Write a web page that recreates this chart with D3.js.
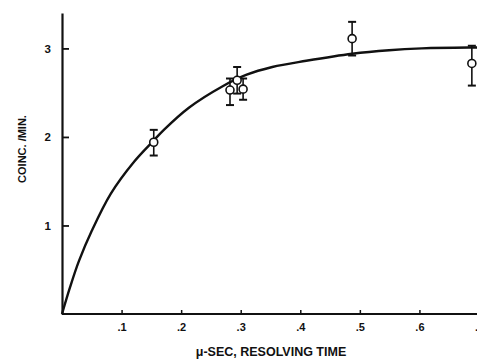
<!doctype html>
<html lang="en">
<head>
  <meta charset="utf-8">
  <title>Coincidences vs resolving time</title>
  <script src="https://d3js.org/d3.v7.min.js"></script>
  <style>
    body { margin: 0; background: #fff; }
    text { font-family: "Liberation Sans", Arial, sans-serif; font-weight: bold; fill: #111; }
    .axis path, .axis line { stroke: #111; }
  </style>
</head>
<body>
  <svg id="chart" width="477" height="360"></svg>
  <script>
    // measured points, resolving time in microseconds
    const pointX = [0.154, 0.282, 0.294, 0.304, 0.487, 0.688];
    const pointY = [1.94, 2.53, 2.64, 2.54, 3.11, 2.83];
    const errLow = [1.79, 2.36, 2.49, 2.42, 2.92, 2.58];
    const errHigh = [2.08, 2.66, 2.79, 2.66, 3.30, 3.03];

    // fitted curve
    const curveX = [0, 0.0134, 0.0285, 0.050, 0.082, 0.121, 0.154, 0.171, 0.213, 0.269, 0.309,
      0.353, 0.410, 0.487, 0.549, 0.604, 0.683, 0.70];
    const curveY = [0, 0.30, 0.60, 0.94, 1.36, 1.72, 1.96, 2.08, 2.33, 2.57, 2.70,
      2.79, 2.86, 2.94, 2.98, 3.00, 3.01, 3.01];

    const xTicks = [0.1, 0.2, 0.3, 0.4, 0.5, 0.6, 0.7];
    const yTicks = [1, 2, 3];

    const svg = d3.select("#chart");

    const x = d3.scaleLinear().domain([0, 0.7]).range([62, 479]);
    const y = d3.scaleLinear().domain([0, 3.4]).range([314, 13]);

    // x axis
    const xAxis = svg.append("g")
      .attr("class", "axis")
      .attr("transform", "translate(0," + y(0) + ")")
      .call(d3.axisBottom(x)
        .tickValues(xTicks)
        .tickSize(-4)
        .tickSizeOuter(0)
        .tickPadding(9)
        .tickFormat(d => d3.format(".1f")(d).replace(/^0/, "")));
    xAxis.select(".domain").attr("stroke-width", 2.2).attr("d", "M" + x(0) + ",0H477");
    xAxis.selectAll("line").attr("stroke-width", 1.5);
    xAxis.selectAll("text").attr("font-size", 11);

    // y axis
    const yAxis = svg.append("g")
      .attr("class", "axis")
      .attr("transform", "translate(" + x(0) + ",0)")
      .call(d3.axisLeft(y)
        .tickValues(yTicks)
        .tickSize(-7)
        .tickSizeOuter(0)
        .tickPadding(9)
        .tickFormat(d3.format("d")));
    yAxis.select(".domain").attr("stroke-width", 2.2);
    yAxis.selectAll("line").attr("stroke-width", 1.8);
    yAxis.selectAll("text").attr("font-size", 11.5).attr("dx", -2);

    // axis titles
    svg.append("text")
      .attr("x", 271).attr("y", 356)
      .attr("text-anchor", "middle")
      .attr("font-size", 12.5)
      .text("\u03BC-SEC, RESOLVING TIME");

    svg.append("text")
      .attr("transform", "translate(26,149) rotate(-90)")
      .attr("text-anchor", "middle")
      .attr("font-size", 11)
      .text("COINC. /MIN.");

    // curve
    const line = d3.line()
      .x((d, i) => x(curveX[i]))
      .y((d, i) => y(curveY[i]))
      .curve(d3.curveCatmullRom.alpha(0.5));

    svg.append("path")
      .datum(curveX)
      .attr("d", line)
      .attr("fill", "none")
      .attr("stroke", "#111")
      .attr("stroke-width", 2.4);

    // error bars and points
    const pts = svg.append("g");
    pointX.forEach((px, i) => {
      const cx = x(px);
      pts.append("line")
        .attr("x1", cx).attr("x2", cx)
        .attr("y1", y(errLow[i])).attr("y2", y(errHigh[i]))
        .attr("stroke", "#111").attr("stroke-width", 1.6);
      [errLow[i], errHigh[i]].forEach(v => {
        pts.append("line")
          .attr("x1", cx - 4).attr("x2", cx + 4)
          .attr("y1", y(v)).attr("y2", y(v))
          .attr("stroke", "#111").attr("stroke-width", 2);
      });
    });
    pointX.forEach((px, i) => {
      pts.append("circle")
        .attr("cx", x(px)).attr("cy", y(pointY[i]))
        .attr("r", 4)
        .attr("fill", "#fff")
        .attr("stroke", "#111")
        .attr("stroke-width", 1.6);
    });
  </script>
</body>
</html>
